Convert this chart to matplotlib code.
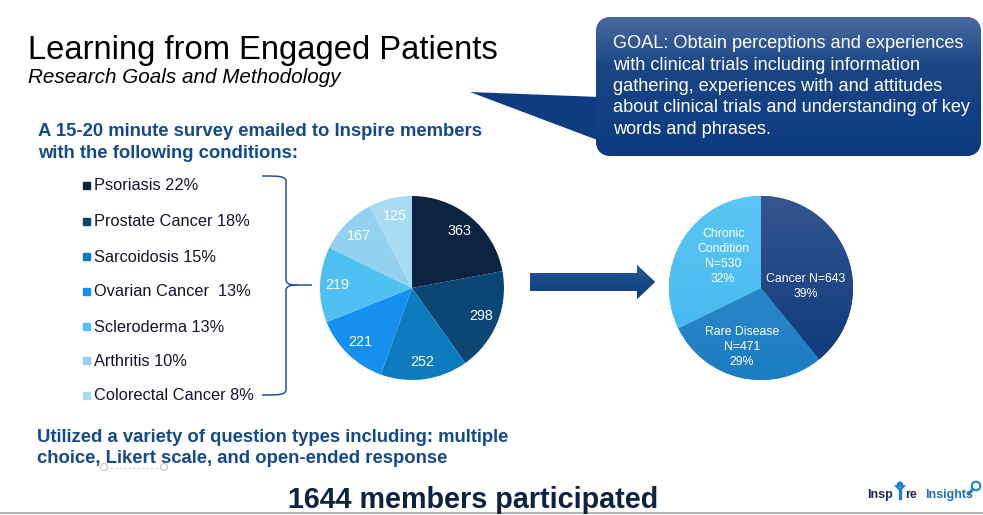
import numpy as np
import matplotlib
matplotlib.use("Agg")
import matplotlib.pyplot as plt
from matplotlib.patches import FancyBboxPatch, Polygon, PathPatch, Rectangle, Circle, Ellipse
from matplotlib.path import Path
from matplotlib.colors import LinearSegmentedColormap

# ---------------- data ----------------
conditions = ["Psoriasis 22%", "Prostate Cancer 18%", "Sarcoidosis 15%", "Ovarian Cancer  13%",
              "Scleroderma 13%", "Arthritis 10%", "Colorectal Cancer 8%"]
condition_counts = [363, 298, 252, 221, 219, 167, 125]
condition_colors = ["#0c2341", "#0b4675", "#0c7cbf", "#1690ee", "#4ec0f2", "#93d2ef", "#a6dbf2"]

groups = ["Cancer N=643\n39%", "Rare Disease\nN=471\n29%", "Chronic\nCondition\nN=530\n32%"]
group_counts = [643, 471, 530]
group_colors = ["#173e7f", "#2484c6", "#4bbcf0"]
group_gradients = [("#34558f", "#0b377a"), ("#3a90d0", "#1c7dc2"), ("#5cc6f4", "#3fb6ec")]

goal_lines = ["GOAL: Obtain perceptions and experiences",
              "with clinical trials including information",
              "gathering, experiences with and attitudes",
              "about clinical trials and understanding of key",
              "words and phrases."]

W, H = 983, 515
fig = plt.figure(figsize=(W / 100, H / 100), dpi=100)
bg = fig.add_axes([0, 0, 1, 1])
bg.set_xlim(0, W)
bg.set_ylim(H, 0)
bg.axis("off")

SANS = ["Liberation Sans", "DejaVu Sans"]
BLUE = "#134a8c"

# ---------------- titles ----------------
bg.text(28, 59, "Learning from Engaged Patients", fontsize=23.6, family=SANS,
        color="black", va="baseline", ha="left")
bg.text(28, 83, "Research Goals and Methodology", fontsize=14.9, family=SANS,
        style="italic", color="black", va="baseline", ha="left")

bg.text(38, 136, "A 15-20 minute survey emailed to Inspire members", fontsize=13.35,
        family=SANS, weight="bold", color=BLUE, va="baseline")
bg.text(38, 158, "with the following conditions:", fontsize=13.35,
        family=SANS, weight="bold", color=BLUE, va="baseline")

bg.text(37, 442, "Utilized a variety of question types including: multiple", fontsize=13.3,
        family=SANS, weight="bold", color=BLUE, va="baseline")
bg.text(37, 463, "choice, Likert scale, and open-ended response", fontsize=13.3,
        family=SANS, weight="bold", color=BLUE, va="baseline")

bg.text(288, 508, "1644 members participated", fontsize=20.7, family=SANS, weight="bold",
        color="#0d2341", va="baseline")

# faint scribble under "Likert"
bg.plot([106, 163], [468, 468], color="#d0d0d0", lw=0.8, ls=(0, (2, 2)))
bg.add_patch(Ellipse((104, 467), 7, 7, fill=False, ec="#c8c8c8", lw=0.8))
bg.add_patch(Ellipse((164, 467), 7, 7, fill=False, ec="#c8c8c8", lw=0.8))

# bottom gray rule
bg.plot([0, W], [512.5, 512.5], color="#b4b8bc", lw=1.5)

# ---------------- legend list ----------------
row_y = [186, 222, 257, 292, 327, 361, 396]
for lab, col, y in zip(conditions, condition_colors, row_y):
    bg.add_patch(Rectangle((83, y - 4), 6.5, 6.5, color=col))
    bg.text(94, y, lab, fontsize=11.8, family=SANS, color="#14142a", va="center", ha="left")

# ---------------- bracket ----------------
verts = [(262, 176), (280, 176), (286, 176), (286, 182),
         (286, 279),
         (286, 284), (290, 285), (297, 285),
         (312, 285)]
codes = [Path.MOVETO, Path.CURVE4, Path.CURVE4, Path.CURVE4,
         Path.LINETO,
         Path.CURVE4, Path.CURVE4, Path.CURVE4,
         Path.LINETO]
bg.add_patch(PathPatch(Path(verts, codes), fill=False, ec="#2a4f8e", lw=1.1))
verts2 = [(297, 285), (290, 285), (286, 286), (286, 291),
          (286, 389),
          (286, 395), (280, 395), (262, 395)]
codes2 = [Path.MOVETO, Path.CURVE4, Path.CURVE4, Path.CURVE4,
          Path.LINETO,
          Path.CURVE4, Path.CURVE4, Path.CURVE4]
bg.add_patch(PathPatch(Path(verts2, codes2), fill=False, ec="#2a4f8e", lw=1.1))

# ---------------- arrow ----------------
arrow = Polygon([(530, 273), (637, 273), (637, 265), (655, 282), (637, 299), (637, 291), (530, 291)],
                closed=True, fc="#1b4a8a", ec="none")
bg.add_patch(arrow)
grad_a = np.linspace(0, 1, 64).reshape(-1, 1)
cm_a = LinearSegmentedColormap.from_list("a", ["#2b5a98", "#174787", "#103f80"])
im_a = bg.imshow(grad_a, cmap=cm_a, extent=(530, 655, 299, 265), aspect="auto", zorder=2)
im_a.set_clip_path(arrow)

# ---------------- callout box ----------------
tail = Polygon([(470, 92), (600, 97), (600, 141)], closed=True, fc="#0f3c81", ec="none", zorder=2)
bg.add_patch(tail)
box = FancyBboxPatch((596, 17), 385, 139, boxstyle="round,pad=0,rounding_size=16",
                     fc="#0f3c81", ec="none", zorder=2)
bg.add_patch(box)
grad = np.linspace(0, 1, 128).reshape(-1, 1)
cm_b = LinearSegmentedColormap.from_list("b", [(0, "#4a6a9f"), (0.35, "#1a4686"), (1, "#0d3a80")])
im_b = bg.imshow(grad, cmap=cm_b, extent=(596, 981, 156, 17), aspect="auto", zorder=3)
im_b.set_clip_path(box)
bg.set_xlim(0, W)
bg.set_ylim(H, 0)
for i, line in enumerate(goal_lines):
    bg.text(613, 48 + i * 21.5, line, fontsize=13.1, family=SANS, color="white",
            va="baseline", ha="left", zorder=5)

# ---------------- logo ----------------
LOGO_DARK = "#1b2a4e"
LOGO_BLUE = "#1f7fd0"
bg.text(867, 498, "Insp", fontsize=9, family=SANS, weight="bold", color=LOGO_DARK, va="baseline")
bg.text(905, 498, "re", fontsize=9, family=SANS, weight="bold", color=LOGO_DARK, va="baseline")
bg.plot([900, 900], [489, 498], color=LOGO_BLUE, lw=2.4)
bg.plot([896, 900, 904], [486, 490, 486], color=LOGO_BLUE, lw=1.6)
bg.add_patch(Circle((900, 484.5), 2.4, color=LOGO_BLUE))
bg.text(925, 498, "Insights", fontsize=9, family=SANS, weight="bold", color="#1f6fb8", va="baseline")
bg.add_patch(Circle((976, 486), 4.3, fill=False, ec=LOGO_BLUE, lw=1.5))
bg.plot([972.8, 968.5], [489.2, 494], color=LOGO_BLUE, lw=2)


# ---------------- pies ----------------
def pie_axes(cx, cy, r):
    return fig.add_axes([(cx - r) / W, (H - cy - r) / H, 2 * r / W, 2 * r / H])


R = 92
axL = pie_axes(412, 288, R)
wedgesL, _ = axL.pie(condition_counts, colors=condition_colors, startangle=90, counterclock=False,
                     wedgeprops=dict(linewidth=0))
axL.set_xlim(-1, 1)
axL.set_ylim(-1, 1)
for w, v in zip(wedgesL, condition_counts):
    a = np.deg2rad((w.theta1 + w.theta2) / 2)
    axL.text(0.81 * np.cos(a), 0.81 * np.sin(a), str(v), color="white", fontsize=10.3,
             family=SANS, ha="center", va="center")

axR = pie_axes(761, 288, R)
wedgesR, _ = axR.pie(group_counts, colors=group_colors, startangle=90, counterclock=False,
                     wedgeprops=dict(linewidth=0))
axR.set_xlim(-1, 1)
axR.set_ylim(-1, 1)
gv = np.linspace(0, 1, 128).reshape(-1, 1)
for w, (c0, c1) in zip(wedgesR, group_gradients):
    cmw = LinearSegmentedColormap.from_list("w", [c0, c1])
    im = axR.imshow(gv, cmap=cmw, extent=(-1, 1, -1, 1), origin="upper", aspect="auto", zorder=2)
    im.set_clip_path(w)
axR.set_xlim(-1, 1)
axR.set_ylim(-1, 1)
label_pos = [(0.49, 0.02), (-0.21, -0.64), (-0.41, 0.34)]
for (x, y), lab in zip(label_pos, groups):
    axR.text(x, y, lab, color="white", fontsize=8.8, family=SANS, ha="center", va="center",
             linespacing=1.35, zorder=5)

fig.savefig("out.png", dpi=100)
